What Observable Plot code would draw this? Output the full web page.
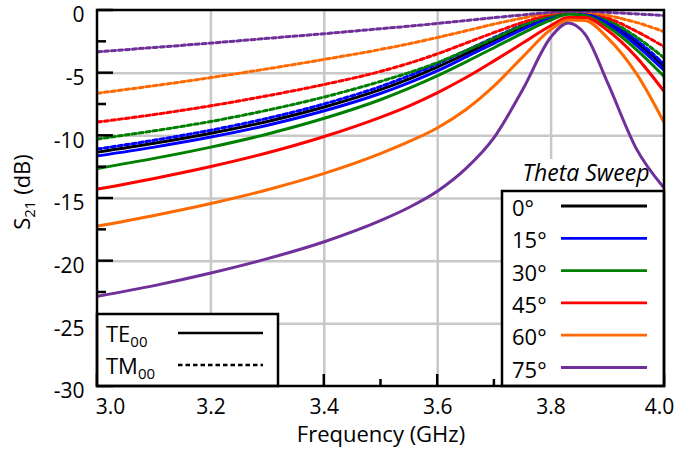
<!DOCTYPE html>
<html><head><meta charset="utf-8">
<script src="https://cdn.jsdelivr.net/npm/d3@7"></script>
<script src="https://cdn.jsdelivr.net/npm/@observablehq/plot@0.6"></script>
<style>
body{margin:0;background:#fff;}
svg{font-family:"Open Sans",sans-serif;}
</style>
</head><body><div id="chart"></div>
<script>
// ---- data ----
const freq = [3.0, 3.1, 3.2, 3.3, 3.4, 3.5, 3.55, 3.6, 3.65, 3.7, 3.75, 3.8, 3.83, 3.86, 3.9, 3.95, 4.0];
// TE00 (solid)
const te0  = [-11.3, -10.6, -9.8, -8.85, -7.7, -6.3, -5.45, -4.5, -3.45, -2.35, -1.3, -0.4, -0.08, -0.2, -0.95, -2.5, -4.5];
const te15 = [-11.6, -10.9, -10.1, -9.15, -8.0, -6.6, -5.75, -4.8, -3.7, -2.6, -1.5, -0.55, -0.15, -0.3, -1.1, -2.75, -4.8];
const te30 = [-12.6, -11.8, -10.9, -9.85, -8.6, -7.1, -6.2, -5.2, -4.1, -2.95, -1.8, -0.75, -0.3, -0.4, -1.3, -3.1, -5.3];
const te45 = [-14.25, -13.4, -12.45, -11.35, -10.05, -8.5, -7.6, -6.55, -5.35, -4.0, -2.6, -1.2, -0.55, -0.55, -1.6, -3.7, -6.5];
const te60 = [-17.2, -16.35, -15.4, -14.3, -13.0, -11.4, -10.45, -9.35, -7.9, -6.0, -3.7, -1.5, -0.75, -0.8, -2.2, -5.0, -9.0];
const te75 = [-22.8, -21.95, -20.95, -19.8, -18.45, -16.75, -15.7, -14.4, -12.6, -10.1, -6.3, -2.1, -1.0, -1.9, -5.8, -11.0, -14.2];
// TM00 (dotted)
const tm15 = [-11.05, -10.35, -9.55, -8.6, -7.45, -6.05, -5.2, -4.25, -3.2, -2.15, -1.15, -0.35, -0.05, -0.15, -0.85, -2.35, -4.3];
const tm30 = [-10.25, -9.6, -8.85, -7.95, -6.9, -5.65, -4.95, -4.15, -3.2, -2.2, -1.2, -0.4, -0.1, -0.1, -0.75, -2.1, -3.8];
const tm45 = [-8.9, -8.3, -7.6, -6.8, -5.9, -4.85, -4.2, -3.45, -2.6, -1.75, -0.95, -0.3, -0.08, -0.1, -0.6, -1.65, -2.9];
const tm60 = [-6.6, -6.0, -5.35, -4.65, -3.9, -3.1, -2.65, -2.15, -1.62, -1.08, -0.6, -0.2, -0.05, -0.1, -0.4, -0.95, -1.7];
const tm75 = [-3.3, -2.95, -2.6, -2.22, -1.85, -1.45, -1.25, -1.03, -0.8, -0.57, -0.35, -0.15, -0.07, -0.07, -0.15, -0.27, -0.4];

const angles = ["0°", "15°", "30°", "45°", "60°", "75°"];
const colors = ["#000000", "#0000ff", "#008000", "#ff0000", "#ff6a00", "#70309a"];
const xTicks = [3.0, 3.2, 3.4, 3.6, 3.8, 4.0];
const xMinor = [3.1, 3.3, 3.5, 3.7, 3.9];
const yTicks = [0, -5, -10, -15, -20, -25, -30];
const yMinor = [-2.5, -7.5, -12.5, -17.5, -22.5, -27.5];
const modes = ["TE", "TM"];
const legendTitle = "Theta Sweep";
const xLabel = "Frequency (GHz)";

const teSeries = [te0, te15, te30, te45, te60, te75];
const tmSeries = [null, tm15, tm30, tm45, tm60, tm75];

const teRows = [], tmRows = [];
teSeries.forEach((s, k) => s.forEach((v, i) => teRows.push({f: freq[i], v, angle: angles[k]})));
tmSeries.forEach((s, k) => s && s.forEach((v, i) => tmRows.push({f: freq[i], v, angle: angles[k]})));

const FS = 21;

// white patch behind the legend title
function titleBg(index, {x, y}) {
  const g = d3.create("svg:g");
  g.append("rect").attr("x", 506).attr("y", 159).attr("width", 156).attr("height", 31).attr("fill", "white");
  return g.node();
}

function frameAndLegends(index, {x, y}) {
  const g = d3.create("svg:g").attr("text-anchor", "start");
  const x0 = x(3), x1 = x(4), yb = y(-30), yt = y(0);
  const line = (a, b, c, d, w, dash, col) => {
    const l = g.append("line").attr("x1", a).attr("x2", b).attr("y1", c).attr("y2", d)
      .attr("stroke", col || "#000").attr("stroke-width", w);
    if (dash) l.attr("stroke-dasharray", dash);
    return l;
  };
  // inner ticks
  yTicks.forEach(v => line(x0, x0 + 16, y(v), y(v), 2.5));
  yMinor.forEach(v => line(x0, x0 + 9, y(v), y(v), 2.5));
  xTicks.forEach(v => line(x(v), x(v), yb, yb - 12, 2.5));
  xMinor.forEach(v => line(x(v), x(v), yb, yb - 7, 2.5));
  // left legend (modes)
  const lx0 = x0, lx1 = 278, ly0 = 314;
  g.append("rect").attr("x", lx0).attr("y", ly0).attr("width", lx1 - lx0).attr("height", yb - ly0)
    .attr("fill", "white").attr("stroke", "#000").attr("stroke-width", 2.5);
  modes.forEach((m, i) => {
    const cy = 333 + i * 32;
    const t = g.append("text").attr("x", 106).attr("y", cy + 9).attr("text-anchor", "start")
      .attr("font-size", 22).attr("fill", "#000");
    t.append("tspan").text(m);
    t.append("tspan").attr("font-size", 15).attr("dy", 5).text("00");
    line(178, 263, cy, cy, 2.5, i === 1 ? "4.5,3" : null);
  });
  // right legend (angles)
  const rx0 = 502, ry0 = 191;
  g.append("rect").attr("x", rx0).attr("y", ry0).attr("width", x1 - rx0).attr("height", yb - ry0)
    .attr("fill", "white").attr("stroke", "#000").attr("stroke-width", 2.5);
  angles.forEach((a, i) => {
    const cy = 206 + i * 32.3;
    g.append("text").attr("x", 512).attr("y", cy + 10).attr("text-anchor", "start")
      .attr("font-size", 22).attr("fill", "#000").text(a);
    line(561, 647, cy, cy, 2.8, null, colors[i]);
  });
  g.append("text").attr("x", 586).attr("y", 181).attr("text-anchor", "middle")
    .attr("font-size", 23).attr("font-style", "italic").attr("fill", "#000").text(legendTitle);
  // frame
  g.append("rect").attr("x", x0).attr("y", yt).attr("width", x1 - x0).attr("height", yb - yt)
    .attr("fill", "none").attr("stroke", "#000").attr("stroke-width", 2.5);
  // y axis title with subscript
  const yl = g.append("text").attr("transform", "translate(30,192) rotate(-90)")
    .attr("text-anchor", "middle").attr("font-size", 22).attr("fill", "#000");
  yl.append("tspan").text("S");
  yl.append("tspan").attr("font-size", 15).attr("dy", 5).text("21");
  yl.append("tspan").attr("dy", -5).text(" (dB)");
  return g.node();
}

const plot = Plot.plot({
  width: 676, height: 457,
  marginLeft: 97, marginRight: 12, marginTop: 10, marginBottom: 71,
  x: {domain: [3, 4], axis: null},
  y: {domain: [-30, 0], axis: null},
  color: {domain: angles, range: colors},
  style: {fontFamily: "Open Sans, sans-serif", background: "white", color: "#000"},
  marks: [
    Plot.gridX(xTicks.slice(1, -1), {stroke: "#c8c8c8", strokeOpacity: 1, strokeWidth: 2.5}),
    Plot.gridY(yTicks.slice(1, -1), {stroke: "#c8c8c8", strokeOpacity: 1, strokeWidth: 2.5}),
    titleBg,
    Plot.line(teRows, {x: "f", y: "v", z: "angle", stroke: "angle", strokeWidth: 3, curve: "monotone-x", clip: true}),
    Plot.line(tmRows, {x: "f", y: "v", z: "angle", stroke: "angle", strokeWidth: 3, strokeDasharray: "4,3", curve: "monotone-x", clip: true}),
    frameAndLegends,
    Plot.text(xTicks.slice(1, -1), {x: d => d, y: -30, dy: 21, text: d => d.toFixed(1), fontSize: FS, fill: "#000"}),
    Plot.text([xTicks[0]], {x: d => d, y: -30, dy: 21, dx: 13, text: d => d.toFixed(1), fontSize: FS, fill: "#000"}),
    Plot.text([xTicks[xTicks.length - 1]], {x: d => d, y: -30, dy: 21, dx: -5, text: d => d.toFixed(1), fontSize: FS, fill: "#000"}),
    Plot.text(yTicks, {x: 3, y: d => d, dx: -13, dy: 5, textAnchor: "end", text: d => String(d), fontSize: FS, fill: "#000"}),
    Plot.text([xLabel], {frameAnchor: "bottom", dy: 55, text: d => d, fontSize: 22, fill: "#000"})
  ]
});
document.getElementById("chart").appendChild(plot);
</script>
</body></html>
